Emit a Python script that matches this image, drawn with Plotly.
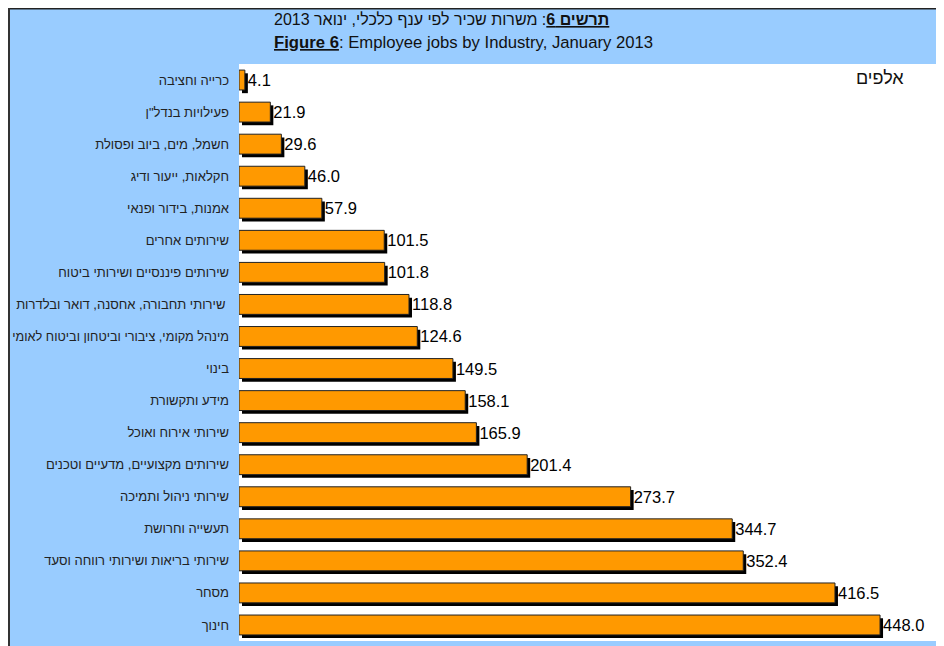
import plotly.graph_objects as go

# data (thousands), top to bottom as in the chart
industries = [
    "כרייה וחציבה",
    'פעילויות בנדל"ן',
    "חשמל, מים, ביוב ופסולת",
    "חקלאות, ייעור ודיג",
    "אמנות, בידור ופנאי",
    "שירותים אחרים",
    "שירותים פיננסיים ושירותי ביטוח",
    "שירותי תחבורה, אחסנה, דואר ובלדרות\u00a0",
    "מינהל מקומי, ציבורי וביטחון וביטוח לאומי",
    "בינוי",
    "מידע ותקשורת",
    "שירותי אירוח ואוכל",
    "שירותים מקצועיים, מדעיים וטכנים",
    "שירותי ניהול ותמיכה",
    "תעשייה וחרושת",
    "שירותי בריאות ושירותי רווחה וסעד",
    "מסחר",
    "חינוך",
]
jobs = [4.1, 21.9, 29.6, 46.0, 57.9, 101.5, 101.8, 118.8, 124.6,
        149.5, 158.1, 165.9, 201.4, 273.7, 344.7, 352.4, 416.5, 448.0]

# page has an 8px body margin, so the figure itself is 936x638
OFF = 8
W, H = 944 - OFF, 646 - OFF
L, T, R, B = 231, 56, 0, 5
pw, ph = W - L - R, H - T - B


def px(x):
    # page pixel -> paper x
    return (x - OFF - L) / pw


def py(y):
    # page pixel -> paper y
    return (H - B - (y - OFF)) / ph


BLUE = "#99CCFF"
ORANGE = "#FF9900"
bar_w = 0.62

# the longest label is set a little tighter, as in the original
tick_text = [
    f'<span style="font-size:12.7px">{s}</span>' if len(s) > 36 else s
    for s in industries
]

fig = go.Figure()

# shadow bars
fig.add_trace(go.Bar(
    y=industries, x=jobs, orientation="h",
    base=2.1, width=bar_w, offset=-bar_w / 2 + 0.1,
    marker=dict(color="black", line=dict(width=0)),
    hoverinfo="skip", showlegend=False,
))

# main bars
fig.add_trace(go.Bar(
    y=industries, x=jobs, orientation="h",
    width=bar_w, offset=-bar_w / 2,
    marker=dict(color=ORANGE, line=dict(color="#222222", width=1)),
    text=[f"{v:.1f}" for v in jobs], textposition="outside",
    textfont=dict(family="Arial, Liberation Sans", size=16.5, color="black"),
    cliponaxis=False, showlegend=False,
))

fig.update_layout(
    width=W, height=H,
    margin=dict(l=L, r=R, t=T, b=B),
    paper_bgcolor=BLUE, plot_bgcolor="white",
    barmode="overlay",
    font=dict(family="Arial, Liberation Sans", color="#222222"),
    xaxis=dict(range=[0, 492.7], visible=False, fixedrange=True),
    yaxis=dict(autorange="reversed", showgrid=False, zeroline=False,
               ticks="", ticklabelstandoff=9,
               tickmode="array", tickvals=industries, ticktext=tick_text,
               tickfont=dict(size=13, color="#222222")),
    shapes=[
        # frame lines on the top and left edges
        dict(type="line", xref="paper", yref="paper", x0=px(7), x1=px(944),
             y0=py(8.7), y1=py(8.7), line=dict(color="#222222", width=1.5)),
        dict(type="line", xref="paper", yref="paper", x0=px(9), x1=px(9),
             y0=py(8), y1=py(646), line=dict(color="#333333", width=2)),
    ],
    annotations=[
        dict(xref="paper", yref="paper", x=px(272), y=py(20),
             xanchor="left", yanchor="middle",
             text="<b><u>תרשים 6</u></b>: משרות שכיר לפי ענף כלכלי, ינואר 2013",
             showarrow=False, font=dict(size=16, color="#111111")),
        dict(xref="paper", yref="paper", x=px(272), y=py(42),
             xanchor="left", yanchor="middle",
             text="<b><u>Figure 6</u></b>: Employee jobs by Industry, January 2013",
             showarrow=False, font=dict(size=16.7, color="#111111")),
        dict(xref="paper", yref="paper", x=px(880), y=py(78),
             xanchor="center", yanchor="middle",
             text="אלפים", showarrow=False,
             font=dict(size=18, color="#111111")),
    ],
)

fig.write_html("out.html")
